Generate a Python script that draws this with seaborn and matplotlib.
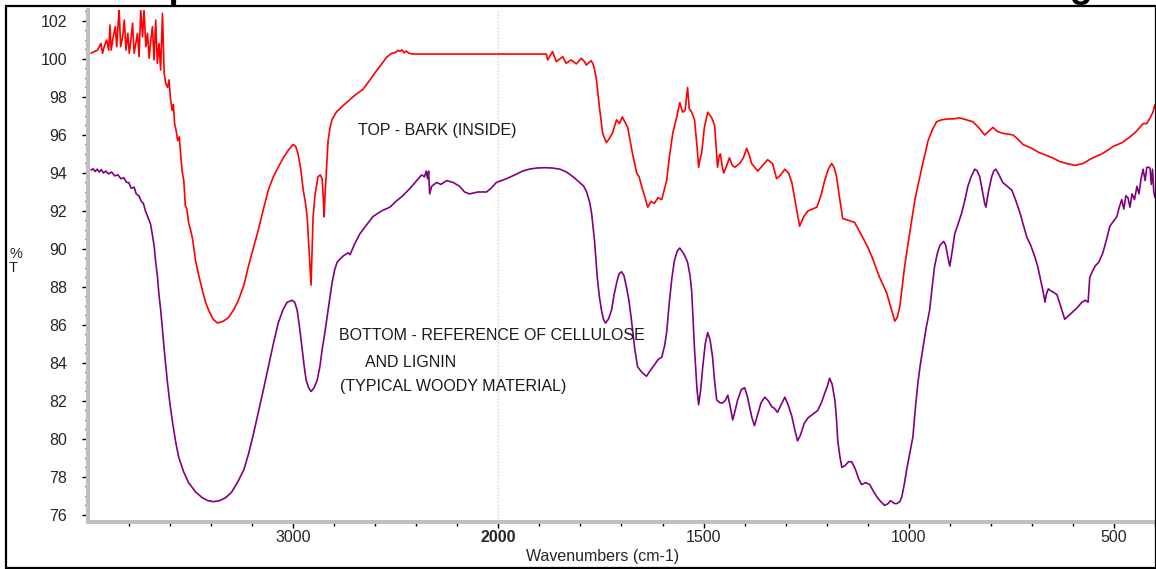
import numpy as np
import pandas as pd
import matplotlib
matplotlib.use("Agg")
import matplotlib.pyplot as plt
import seaborn as sns
from matplotlib.patches import Rectangle
from matplotlib.font_manager import FontProperties
from matplotlib.ticker import FixedLocator

# ---- spectra: wavenumber (cm-1) and %T ----
bark_wn = [3985, 3969, 3953, 3937, 3929, 3921, 3909, 3899, 3893, 3887, 3877, 3867, 3860, 3853, 3848,
           3841, 3831, 3823, 3815, 3806, 3799, 3791, 3783, 3775, 3767, 3759, 3751, 3743, 3734, 3727,
           3718, 3710, 3702, 3694, 3686, 3678, 3670, 3662, 3654, 3646, 3637, 3629, 3621, 3612, 3605,
           3598, 3590, 3584, 3578, 3570, 3563, 3555, 3548, 3540, 3533, 3526, 3518, 3510, 3500, 3490,
           3476, 3460, 3442, 3427, 3413, 3390, 3369, 3340, 3315, 3290, 3267, 3240, 3218, 3195, 3170,
           3145, 3121, 3097, 3073, 3048, 3024, 3000, 2988, 2976, 2963, 2951, 2940, 2932, 2922, 2916,
           2913, 2908, 2903, 2893, 2879, 2868, 2859, 2853, 2849, 2845, 2840, 2830, 2820, 2811, 2790,
           2762, 2730, 2699, 2660, 2626, 2600, 2578, 2544, 2520, 2500, 2490, 2481, 2470, 2460, 2450,
           2435, 2417, 1883, 1880, 1868, 1859, 1843, 1835, 1823, 1810, 1798, 1790, 1786, 1774, 1770,
           1766, 1761, 1754, 1746, 1737, 1730, 1722, 1712, 1705, 1698, 1692, 1685, 1679, 1673, 1663,
           1657, 1651, 1644, 1636, 1628, 1620, 1611, 1602, 1590, 1583, 1575, 1566, 1558, 1551, 1545,
           1539, 1535, 1529, 1522, 1516, 1512, 1508, 1505, 1498, 1490, 1480, 1473, 1466, 1462, 1459,
           1455, 1451, 1445, 1437, 1430, 1424, 1412, 1403, 1395, 1388, 1383, 1368, 1356, 1344, 1332,
           1322, 1312, 1302, 1293, 1285, 1276, 1266, 1256, 1246, 1235, 1224, 1214, 1205, 1196, 1188,
           1182, 1176, 1168, 1161, 1146, 1132, 1122, 1112, 1100, 1090, 1071, 1054, 1042, 1034, 1028,
           1022, 1016, 1010, 998, 985, 968, 953, 942, 932, 920, 907, 890, 876, 860, 844,
           830, 815, 805, 795, 785, 773, 760, 746, 735, 722, 700, 685, 673, 650, 632,
           615, 595, 575, 560, 551, 530, 515, 502, 480, 461, 445, 429, 420, 412, 405, 400]
bark_t = [100.30, 100.39, 100.47, 100.82, 100.30, 100.65, 101.00, 100.47, 101.79, 100.47, 101.17, 101.70, 100.65, 101.88, 102.58,
          100.65, 101.17, 102.05, 100.47, 101.35, 100.30, 101.00, 101.88, 100.30, 100.82, 101.35, 100.12, 102.58, 101.17, 102.58,
          100.65, 101.35, 100.04, 101.00, 101.70, 99.95, 102.05, 99.77, 100.82, 99.42, 102.40, 99.25, 98.72, 98.50, 98.90,
          97.90, 97.30, 97.60, 96.60, 96.20, 95.70, 95.90, 94.90, 94.00, 93.60, 92.30, 92.10, 91.40, 91.00, 90.50,
          89.40, 88.60, 87.80, 87.20, 86.80, 86.30, 86.10, 86.20, 86.40, 86.80, 87.30, 88.10, 89.10, 90.00, 91.00,
          92.10, 93.10, 93.80, 94.30, 94.80, 95.20, 95.50, 95.40, 95.00, 94.20, 93.10, 92.40, 91.70, 89.80, 88.60,
          88.10, 90.00, 91.70, 92.90, 93.80, 93.90, 93.70, 92.60, 91.70, 92.80, 93.80, 95.70, 96.40, 96.80, 97.20,
          97.50, 97.80, 98.10, 98.40, 98.90, 99.30, 99.60, 100.10, 100.30, 100.35, 100.45, 100.40, 100.48, 100.32, 100.42,
          100.30, 100.26, 100.26, 99.95, 100.39, 99.86, 100.12, 99.77, 99.95, 99.74, 100.04, 99.86, 99.68, 99.91, 99.77,
          99.50, 98.90, 97.50, 96.10, 95.60, 95.80, 96.10, 96.80, 96.60, 96.95, 96.70, 96.40, 95.70, 95.00, 94.00,
          93.80, 93.30, 92.80, 92.20, 92.50, 92.40, 92.70, 92.60, 93.60, 94.90, 96.10, 96.90, 97.70, 97.20, 97.30,
          98.50, 97.40, 97.20, 96.80, 95.40, 94.30, 94.80, 95.00, 96.40, 97.20, 96.90, 96.50, 94.30, 94.90, 95.00,
          94.40, 94.00, 94.30, 94.80, 94.40, 94.30, 94.50, 94.80, 95.30, 94.90, 94.50, 94.10, 94.40, 94.70, 94.50,
          93.70, 93.90, 94.20, 94.00, 93.50, 92.40, 91.20, 91.70, 92.00, 92.10, 92.20, 92.80, 93.60, 94.20, 94.50,
          94.30, 93.80, 92.60, 91.60, 91.50, 91.40, 91.00, 90.60, 90.10, 89.60, 88.50, 87.70, 86.80, 86.20, 86.40,
          86.96, 88.00, 89.10, 90.80, 92.60, 94.30, 95.70, 96.30, 96.70, 96.80, 96.84, 96.85, 96.90, 96.80, 96.70,
          96.40, 96.00, 96.20, 96.40, 96.20, 96.10, 96.05, 96.00, 95.80, 95.50, 95.30, 95.10, 95.00, 94.80, 94.60,
          94.50, 94.40, 94.50, 94.70, 94.80, 95.00, 95.20, 95.40, 95.60, 95.90, 96.20, 96.60, 96.60, 96.90, 97.20, 97.60]

wood_wn = [3985, 3975, 3965, 3955, 3945, 3935, 3925, 3912, 3900, 3885, 3870, 3854, 3840, 3825, 3812,
           3801, 3790, 3775, 3765, 3752, 3740, 3730, 3720, 3709, 3695, 3684, 3677, 3670, 3662, 3655,
           3645, 3636, 3625, 3612, 3600, 3587, 3572, 3558, 3535, 3510, 3475, 3442, 3415, 3388, 3360,
           3330, 3300, 3267, 3240, 3218, 3195, 3170, 3145, 3121, 3097, 3073, 3050, 3029, 3005, 2993,
           2981, 2968, 2956, 2946, 2937, 2925, 2913, 2898, 2883, 2870, 2859, 2847, 2835, 2822, 2811,
           2798, 2786, 2760, 2733, 2723, 2699, 2675, 2640, 2612, 2570, 2529, 2500, 2466, 2430, 2398,
           2374, 2360, 2352, 2345, 2340, 2335, 2325, 2301, 2280, 2252, 2220, 2189, 2165, 2141, 2100,
           2058, 2035, 2010, 1980, 1960, 1941, 1925, 1907, 1885, 1868, 1850, 1834, 1818, 1802, 1792,
           1785, 1778, 1773, 1766, 1759, 1754, 1749, 1744, 1739, 1732, 1724, 1718, 1712, 1706, 1700,
           1694, 1688, 1682, 1676, 1668, 1661, 1650, 1639, 1630, 1620, 1610, 1602, 1595, 1590, 1583,
           1577, 1571, 1564, 1558, 1550, 1545, 1539, 1533, 1529, 1522, 1516, 1512, 1507, 1502, 1496,
           1490, 1484, 1478, 1473, 1468, 1460, 1454, 1448, 1441, 1436, 1429, 1423, 1417, 1408, 1400,
           1394, 1388, 1382, 1376, 1368, 1360, 1351, 1342, 1334, 1327, 1320, 1311, 1302, 1294, 1285,
           1278, 1271, 1264, 1255, 1246, 1234, 1222, 1213, 1205, 1198, 1193, 1187, 1180, 1176, 1173,
           1168, 1163, 1155, 1147, 1139, 1130, 1122, 1115, 1105, 1095, 1085, 1076, 1068, 1059, 1050,
           1045, 1041, 1035, 1029, 1022, 1017, 1011, 1005, 998, 990, 984, 978, 972, 966, 958,
           949, 943, 937, 930, 924, 915, 910, 905, 900, 894, 888, 880, 871, 863, 856,
           848, 839, 833, 827, 820, 815, 812, 806, 798, 793, 788, 780, 771, 760, 749,
           740, 729, 720, 712, 703, 693, 686, 680, 674, 668, 665, 660, 654, 646, 639,
           630, 620, 610, 600, 590, 578, 570, 563, 559, 553, 546, 537, 527, 518, 510,
           500, 493, 487, 481, 476, 471, 466, 461, 456, 450, 444, 439, 434, 429, 424,
           420, 416, 412, 409, 406, 403, 400]
wood_t = [94.16, 94.22, 94.08, 94.20, 94.05, 94.18, 94.00, 94.10, 93.95, 94.05, 93.85, 93.90, 93.70, 93.75, 93.50,
          93.50, 93.20, 93.25, 92.90, 92.80, 92.50, 92.40, 92.00, 91.70, 91.30, 90.60, 90.10, 89.30, 88.60, 87.70,
          86.70, 85.60, 84.30, 82.90, 81.80, 80.80, 79.80, 79.05, 78.30, 77.70, 77.20, 76.90, 76.75, 76.70, 76.75,
          76.90, 77.20, 77.80, 78.40, 79.20, 80.20, 81.40, 82.60, 83.80, 85.00, 86.10, 86.80, 87.20, 87.30, 87.20,
          86.80, 85.80, 84.70, 83.80, 83.10, 82.70, 82.50, 82.70, 83.10, 83.80, 84.70, 85.50, 86.40, 87.40, 88.20,
          88.90, 89.30, 89.60, 89.80, 89.70, 90.30, 90.80, 91.30, 91.70, 92.00, 92.20, 92.50, 92.80, 93.20, 93.60,
          93.90, 93.80, 94.10, 93.70, 94.10, 92.90, 93.30, 93.50, 93.40, 93.60, 93.50, 93.30, 93.00, 92.90, 93.00,
          93.00, 93.20, 93.50, 93.70, 93.90, 94.10, 94.20, 94.26, 94.28, 94.26, 94.20, 94.05, 93.80, 93.50, 93.30,
          93.00, 92.50, 91.90, 90.50, 88.50, 87.50, 86.80, 86.30, 86.10, 86.30, 86.80, 87.60, 88.20, 88.70, 88.80,
          88.60, 88.00, 87.30, 86.30, 84.80, 83.80, 83.50, 83.30, 83.60, 83.90, 84.20, 84.30, 84.90, 85.60, 87.30,
          88.50, 89.40, 89.90, 90.05, 89.80, 89.60, 89.30, 88.60, 87.80, 84.70, 82.60, 81.80, 82.60, 83.80, 85.00,
          85.60, 85.20, 84.30, 83.00, 82.05, 81.90, 81.90, 82.00, 82.30, 81.80, 81.00, 81.50, 82.05, 82.60, 82.70,
          82.30, 81.70, 81.10, 80.70, 81.30, 81.90, 82.20, 82.00, 81.70, 81.60, 81.40, 81.80, 82.20, 81.80, 81.20,
          80.50, 79.90, 80.20, 80.80, 81.10, 81.30, 81.50, 81.90, 82.40, 82.80, 83.20, 82.90, 82.05, 81.00, 79.90,
          79.10, 78.50, 78.60, 78.80, 78.80, 78.40, 77.90, 77.60, 77.70, 77.60, 77.20, 76.90, 76.70, 76.50, 76.60,
          76.75, 76.70, 76.60, 76.60, 76.70, 76.95, 77.60, 78.40, 79.20, 80.10, 81.60, 82.90, 83.90, 84.70, 85.80,
          86.80, 88.00, 89.10, 89.80, 90.20, 90.40, 90.20, 89.60, 89.10, 89.90, 90.80, 91.30, 91.90, 92.60, 93.30,
          93.80, 94.20, 94.10, 93.80, 93.00, 92.40, 92.20, 93.00, 93.80, 94.10, 94.20, 93.90, 93.50, 93.30, 93.10,
          92.60, 91.90, 91.20, 90.60, 90.20, 89.60, 89.10, 88.50, 87.90, 87.20, 87.60, 87.90, 87.80, 87.70, 87.60,
          87.00, 86.30, 86.50, 86.70, 86.90, 87.20, 87.30, 87.20, 88.50, 88.80, 89.10, 89.30, 89.80, 90.50, 91.20,
          91.50, 91.70, 92.20, 92.60, 92.10, 92.80, 92.70, 92.20, 92.90, 92.60, 93.30, 92.90, 93.70, 94.20, 93.60,
          94.30, 94.30, 94.26, 93.40, 94.20, 93.00, 92.70]

major_x = [3000, 2000, 1500, 1000, 500]
major_x_labels = ["3000", "2000", "1500", "1000", "500"]
minor_x = list(range(3800, 2000, -200)) + list(range(1900, 399, -100))
major_y = list(range(76, 103, 2))

annotations = [
    ("TOP - BARK (INSIDE)", 2684, 96.26),
    ("BOTTOM - REFERENCE OF CELLULOSE", 2777, 85.42),
    ("AND LIGNIN", 2650, 84.0),
    ("(TYPICAL WOODY MATERIAL)", 2772, 82.74),
]

W, H = 1156, 569
sns.set_style("white")
plt.rcParams["font.family"] = ["Liberation Sans", "DejaVu Sans"]
plt.rcParams["font.size"] = 11.5

fig = plt.figure(figsize=(W / 100, H / 100), dpi=100)
ax = fig.add_axes([88 / W, 1 - 521.6 / H, 1067 / W, 512 / H])

bark = pd.DataFrame({"wn": bark_wn, "T": bark_t})
wood = pd.DataFrame({"wn": wood_wn, "T": wood_t})
sns.lineplot(data=bark, x="wn", y="T", color="#ff0000", linewidth=1.2, sort=False,
             estimator=None, ax=ax)
sns.lineplot(data=wood, x="wn", y="T", color="#800080", linewidth=1.2, sort=False,
             estimator=None, ax=ax)


# region above 2000 cm-1 is drawn at half scale
def fwd(x):
    x = np.asarray(x, dtype=float)
    return np.where(x > 2000, 2000 + (x - 2000) / 2.0, x)


def inv(x):
    x = np.asarray(x, dtype=float)
    return np.where(x > 2000, 2000 + (x - 2000) * 2.0, x)


ax.set_xscale("function", functions=(fwd, inv))
ax.set_xlim(4000, 400)
ax.set_ylim(75.65, 102.6)

ax.axvline(2000, color="#c8c8c8", linestyle=":", linewidth=0.9, zorder=0)

ax.set_xticks(major_x, labels=major_x_labels)
ax.xaxis.set_minor_locator(FixedLocator(minor_x))
for lab in ax.get_xticklabels():
    if lab.get_text() == "2000":
        lab.set_fontweight("bold")
ax.set_yticks(major_y, labels=[str(v) for v in major_y])
ax.yaxis.set_minor_locator(FixedLocator(list(np.arange(76, 102.6, 0.5))))

ax.tick_params(axis="y", which="major", direction="out", length=4.5, width=1.0,
               color="black", pad=10.5, labelsize=11.5, left=True)
ax.tick_params(axis="y", which="minor", direction="out", length=2.3, width=1.0,
               color="black", left=True)
ax.tick_params(axis="x", which="major", direction="out", length=4.5, width=1.0,
               color="black", pad=1.5, labelsize=11.5, bottom=True)
ax.tick_params(axis="x", which="minor", direction="out", length=2.8, width=1.0,
               color="black", bottom=True)

for side in ("top", "right"):
    ax.spines[side].set_visible(False)
for side in ("left", "bottom"):
    ax.spines[side].set_color("#c0c0c0")
    ax.spines[side].set_linewidth(2.9)

ax.set_xlabel("")
ax.set_ylabel("")
fig.text(603 / W, 1 - 556 / H, "Wavenumbers (cm-1)", ha="center", va="center", fontsize=11.5)
fig.text(9 / W, 1 - 261 / H, "%\nT", ha="left", va="center", fontsize=10.5, linespacing=1.0)

for txt, xw, yt in annotations:
    ax.text(xw, yt, txt, ha="left", va="center", fontsize=11.5, color="#1a1a1a")

# banner title sitting above the frame
title = "FTIR Comparison: Inside Bark vs. Reference Cellulose and Lignin"
renderer = fig.canvas.get_renderer()
fp0 = FontProperties(family="Liberation Sans", weight="bold", size=20)
wp = renderer.get_text_width_height_descent("FTIR Com", fp0, ismath=False)[0]
wg = renderer.get_text_width_height_descent(
    "FTIR Comparison: Inside Bark vs. Reference Cellulose and Li", fp0, ismath=False)[0]
em0 = 20 * 100 / 72
span0 = (wg + 0.3 * em0) - (wp + 0.12 * em0)
size = 20 * (1080 - 173) / span0
em = size * 100 / 72
x0 = 173 - (wp * size / 20 + 0.12 * em)
fig.text(x0 / W, 1 + 3.0 / H, title, ha="left", va="baseline", fontsize=size,
         fontweight="bold", color="black")

# frame around the whole figure
fig.patches.append(Rectangle((5.7 / W, 1.2 / H), (1155.5 - 5.7) / W, (562.0) / H,
                             transform=fig.transFigure, fill=False,
                             edgecolor="black", linewidth=1.6, zorder=10))

fig.savefig("out.png", dpi=100)
